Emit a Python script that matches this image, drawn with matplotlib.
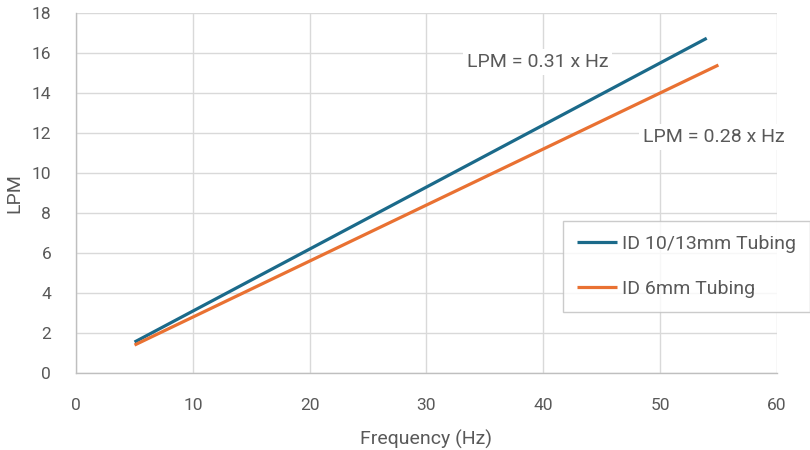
import matplotlib
matplotlib.use("Agg")
import matplotlib.pyplot as plt

plt.rcParams['font.family'] = ['Roboto', 'DejaVu Sans']

# data
freq_large = [5, 54]
lpm_large = [1.55, 16.74]
freq_small = [5, 55]
lpm_small = [1.4, 15.4]
series_names = ["ID 10/13mm Tubing", "ID 6mm Tubing"]
eq_labels = ["LPM = 0.31 x Hz", "LPM = 0.28 x Hz"]

blue = '#1B6A8A'
orange = '#E97132'
grid_c = '#D9D9D9'
text_c = '#595959'

fig = plt.figure(figsize=(8.1, 4.5), dpi=100)
ax = fig.add_axes([0.094, 0.171, 0.865, 0.8])

ax.plot(freq_large, lpm_large, color=blue, lw=2.3, label=series_names[0], solid_capstyle='butt')
ax.plot(freq_small, lpm_small, color=orange, lw=2.3, label=series_names[1], solid_capstyle='butt')

ax.set_xlim(0, 60)
ax.set_ylim(0, 18)
ax.set_xticks(range(0, 61, 10))
ax.set_yticks(range(0, 19, 2))
ax.grid(True, color=grid_c, lw=1)
ax.set_axisbelow(True)
for s in ['top', 'right']:
    ax.spines[s].set_visible(False)
for s in ['left', 'bottom']:
    ax.spines[s].set_color('#BFBFBF')
    ax.spines[s].set_linewidth(1)
ax.tick_params(length=0, labelsize=12.5, colors=text_c, pad=18)
ax.tick_params(axis='y', pad=18)

ax.set_xlabel("Frequency (Hz)", fontsize=14, color=text_c, labelpad=12)
ax.set_ylabel("LPM", fontsize=14, color=text_c, labelpad=6)

box = dict(facecolor='white', edgecolor='none', pad=3)
ax.text(39.5, 15.55, eq_labels[0], fontsize=14, color=text_c, ha='center', va='center', bbox=box)
ax.text(54.6, 11.8, eq_labels[1], fontsize=14, color=text_c, ha='center', va='center', bbox=box, clip_on=False)

leg = ax.legend(loc='upper left', bbox_to_anchor=(0.695, 0.422), borderaxespad=0, fontsize=14,
                frameon=True, fancybox=False, handlelength=2.05, labelspacing=1.4, borderpad=0.7,
                handletextpad=0.3, labelcolor=text_c)
leg.get_frame().set_edgecolor('#BFBFBF')
leg.get_frame().set_linewidth(1)

fig.savefig('out.png', dpi=100)
